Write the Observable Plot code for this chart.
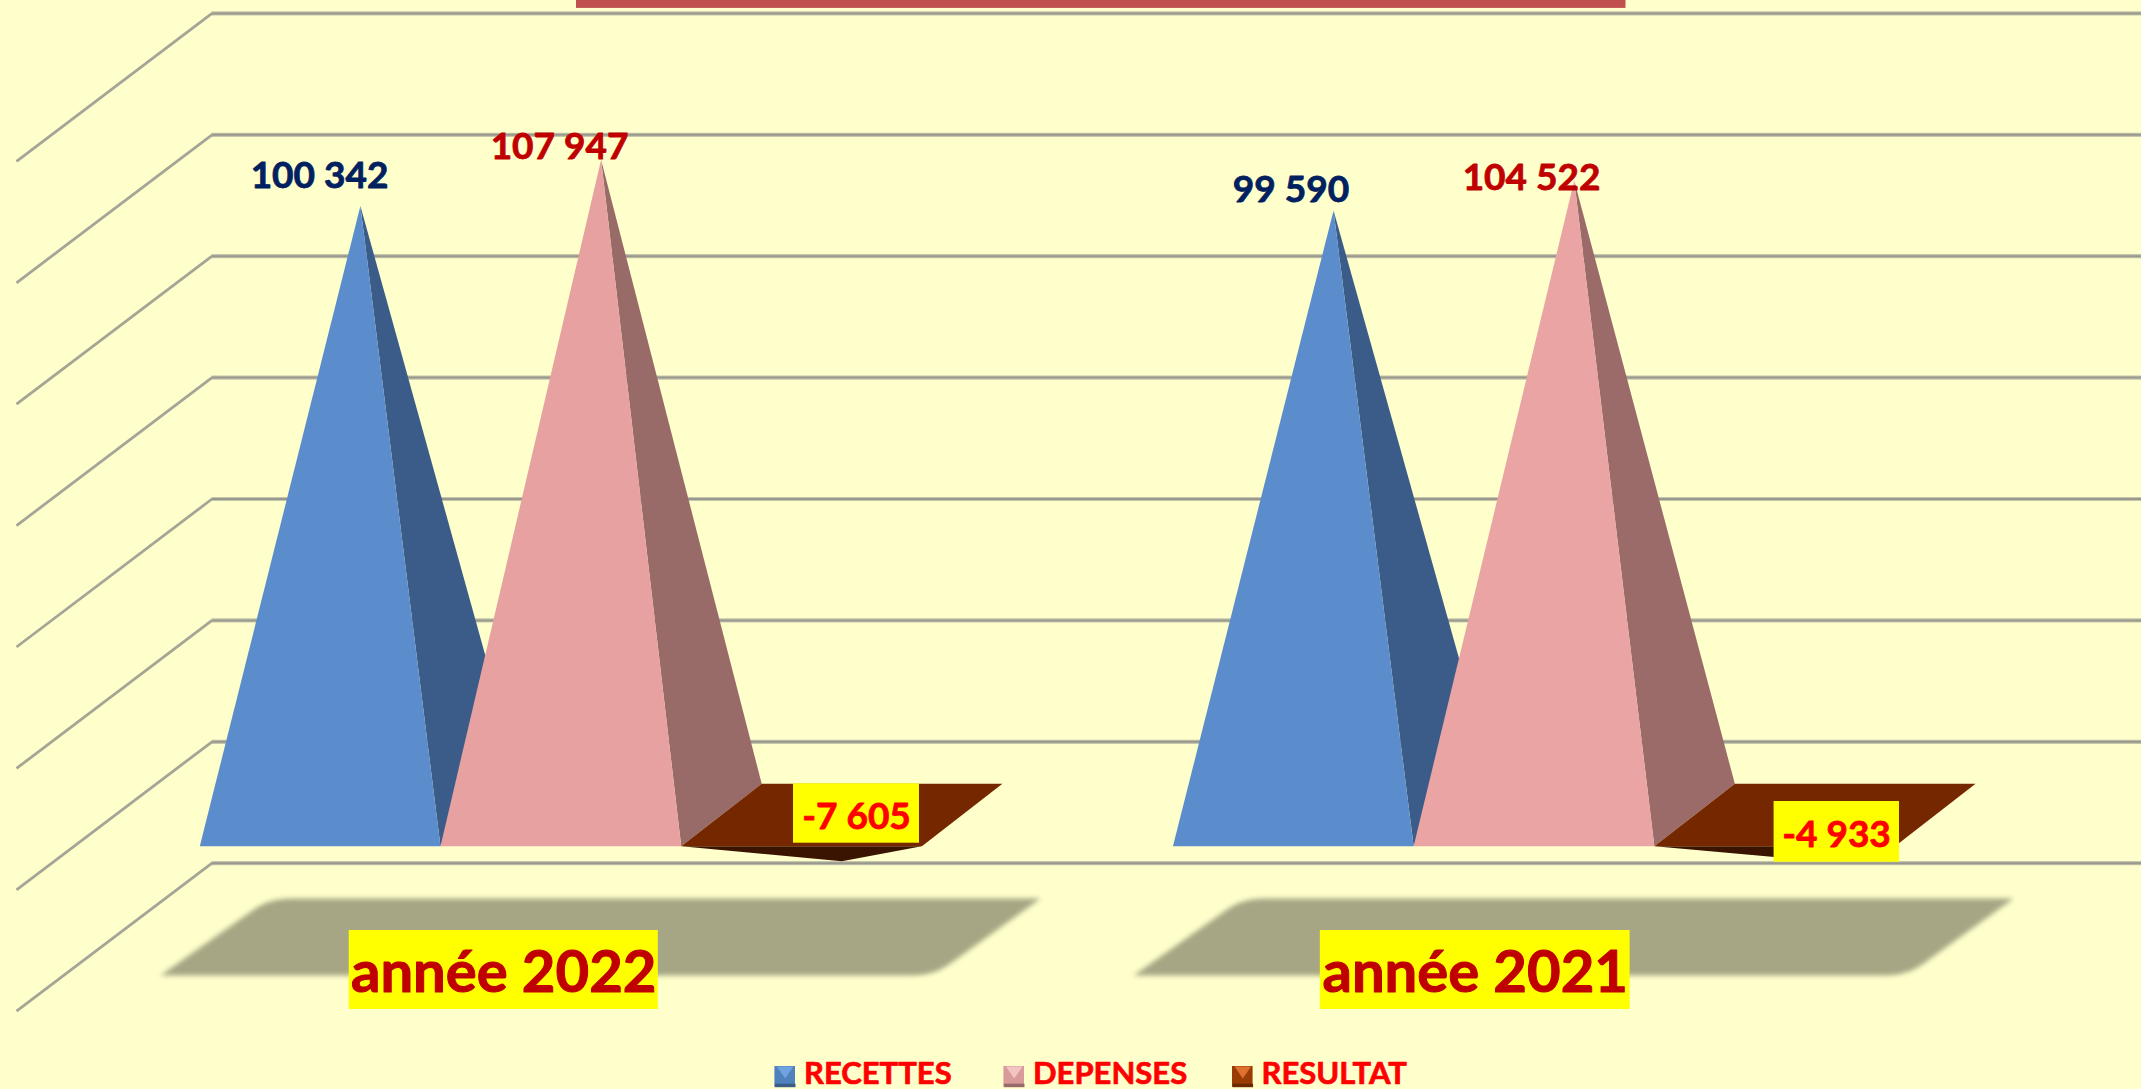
<!DOCTYPE html>
<html><head><meta charset="utf-8">
<script src="https://cdn.jsdelivr.net/npm/d3@7"></script>
<script src="https://cdn.jsdelivr.net/npm/@observablehq/plot@0.6"></script>
<style>html,body{margin:0;padding:0;background:#ffffcc;overflow:hidden}svg{display:block}</style>
</head><body><div id="chart"></div>
<script>
// ---- chart values ----
const categories = ["année 2022", "année 2021"];
const seriesNames = ["RECETTES", "DEPENSES", "RESULTAT"];
const recettes = [100342, 99590];
const depenses = [107947, 104522];
const resultat = [-7605, -4933];
// depth of the inverted pyramids as the picture draws them (the 2021 tip sits behind its label)
const resultatDrawn = [-7605, -7500];
const gridValues = [120000, 100000, 80000, 60000, 40000, 20000, 0, -20000];

// ---- scale set-up: x in bar-slots, y in euros ----
const W = 2141, H = 1089;
const slotPx = 240.7, originPx = 199.3, zeroPx = 814.5, pxPerValue = 0.00607;
const xDomain = [-originPx / slotPx, (W - originPx) / slotPx];
const yDomain = [(zeroPx - H) / pxPerValue, zeroPx / pxPerValue];
const X = (px) => (px - originPx) / slotPx;          // pixel → slot units (annotations only)
const Y = (py) => (zeroPx - py) / pxPerValue;        // pixel → value units (annotations only)
const catStep = 4.043;
const depthX = 80.5 / slotPx, depthY = 62.4 / pxPerValue;
const P = (slot, value, d) => ({x: slot + (d + 0.5) * depthX, y: value + d * depthY});

const bg = "#ffffcc";
const colors = {
  blue: "#5b8dcd", blueDark: "#3b5c88",
  pink: ["#e8a1a1", "#eba4a4"], pinkDark: ["#986a68", "#9b6b69"],
  brown: "#752700", brownDark: "#3a1400"
};
const face = (pts, fill) => Plot.line(pts, {x: "x", y: "y", fill, stroke: "none", curve: "linear-closed"});

function pyramidUp(slot, value, front, side) {
  const a = P(slot, 0, -0.5), b = P(slot + 1, 0, -0.5), c = P(slot + 1, 0, 0.5);
  const t = P(slot + 0.5, value, 0);
  return [face([b, c, t], side), face([a, b, t], front)];
}
function pyramidDown(slot, value) {
  const a = P(slot, 0, -0.5), b = P(slot + 1, 0, -0.5), c = P(slot + 1, 0, 0.5), d = P(slot, 0, 0.5);
  const t = P(slot + 0.5, value, 0);
  return [face([a, b, t], colors.brownDark), face([a, b, c, d], colors.brown)];
}

// grid: back wall + receding lines
const wallLift = (zeroPx - 741.3) / pxPerValue;
const depthSpan = 148 / pxPerValue;
const gridColor = "#a5a596";
const wallValues = gridValues.map(v => v + wallLift);
const wallMarks = [
  Plot.ruleY(wallValues, {x1: X(211.5), x2: xDomain[1], stroke: "#c6c6ac", strokeWidth: 4.2}),
  Plot.ruleY(wallValues, {x1: X(211.5), x2: xDomain[1], stroke: "#98988c", strokeWidth: 2}),
  Plot.link(gridValues, {
    x1: () => X(211.5), y1: v => v + wallLift,
    x2: () => X(16), y2: v => v + wallLift - depthSpan,
    stroke: gridColor, strokeWidth: 2.8
  })
];

// category shadow plates: sharp bottom-left/top-right, rounded top-left/bottom-right
function corner(a, c, b) {
  return d3.range(0, 1.001, 0.2).map(t => [
    (1 - t) ** 2 * a[0] + 2 * t * (1 - t) * c[0] + t ** 2 * b[0],
    (1 - t) ** 2 * a[1] + 2 * t * (1 - t) * c[1] + t ** 2 * b[1]
  ]);
}
const shadowOutline = [
  [160, 975],
  ...corner([252, 910], [268, 898], [290, 898]),
  [1040, 898],
  ...corner([950, 963], [934, 975], [912, 975])
];
const shadowMarks = categories.map((c, i) => Plot.line(
  shadowOutline.map(([px, py]) => ({x: i * catStep + X(px), y: Y(py)})),
  {x: "x", y: "y", fill: "#a6a684", stroke: "none", curve: "linear-closed", imageFilter: "blur(2.5px)"}
));

const pyramids = categories.flatMap((c, i) => {
  const o = i * catStep;
  return [
    ...pyramidUp(o, recettes[i], colors.blue, colors.blueDark),
    ...pyramidUp(o + 1, depenses[i], colors.pink[i], colors.pinkDark[i]),
    ...pyramidDown(o + 2, resultatDrawn[i])
  ];
});

// label boxes and texts
const font = "Lato, Carlito, Calibri, sans-serif";
const fr = d3.formatLocale({decimal: ",", thousands: " ", grouping: [3], currency: ["", ""], minus: "-"}).format(",d");

const topLabels = [
  {x: X(319),  y: Y(187.5), t: fr(recettes[0]), c: "#002060"},
  {x: X(559),  y: Y(158),   t: fr(depenses[0]), c: "#c00000"},
  {x: X(1290.5), y: Y(201.8), t: fr(recettes[1]), c: "#002060"},
  {x: X(1531), y: Y(189.3), t: fr(depenses[1]), c: "#c00000"}
];
const resBoxes = [
  {x1: X(793), x2: X(919), y1: Y(783.3), y2: Y(842.7), x: X(856), y: Y(828), t: fr(resultat[0])},
  {x1: X(1773.6), x2: X(1899), y1: Y(801), y2: Y(861.7), x: X(1836), y: Y(846), t: fr(resultat[1])}
];
const yearBoxes = [
  {x1: X(348.7), x2: X(657.8), y1: Y(930), y2: Y(1009), x: X(503.2), y: Y(991.7), t: categories[0]},
  {x1: X(1319.8), x2: X(1629.6), y1: Y(930), y2: Y(1009), x: X(1474.7), y: Y(991.7), t: categories[1]}
];

// legend
const legendItems = [
  {name: seriesNames[0], sx: 774.4, tx: 803.5, base: "#4f81bd", hi: "#6fa3e0", lo: "#3b5c88"},
  {name: seriesNames[1], sx: 1003.4, tx: 1032.5, base: "#d99a9a", hi: "#f2c4c4", lo: "#986a68"},
  {name: seriesNames[2], sx: 1232, tx: 1261, base: "#9a3c06", hi: "#e0702e", lo: "#6a2a04"}
];
const legendMarks = legendItems.flatMap(l => {
  const x0 = l.sx, x1 = l.sx + 20.6, y0 = 1066, y1 = 1086.7, cx = l.sx + 10.3;
  return [
    Plot.rect([0], {x1: () => X(x0), x2: () => X(x1), y1: () => Y(y0), y2: () => Y(y1), fill: l.base}),
    face([{x: X(x0), y: Y(y1)}, {x: X(x1), y: Y(y1)}, {x: X(x1), y: Y(y1 - 3.5)}, {x: X(x0), y: Y(y1 - 3.5)}], l.lo),
    face([{x: X(x0 + 2), y: Y(y0)}, {x: X(x1 - 2), y: Y(y0)}, {x: X(cx), y: Y(y0 + 12)}], l.hi),
    Plot.text([l], {x: () => X(l.tx), y: () => Y(1083), text: "name", textAnchor: "start", lineAnchor: "bottom",
      fontFamily: font, fontWeight: 700, fontSize: 31, fill: "#ff0000", stroke: "#ff0000", strokeWidth: 0.7})
  ];
});

const chart = Plot.plot({
  width: W, height: H, margin: 0,
  style: {background: bg, overflow: "hidden"},
  x: {axis: null, domain: xDomain},
  y: {axis: null, domain: yDomain},
  marks: [
    ...wallMarks,
    Plot.rect([0], {x1: () => X(576), x2: () => X(1625.5), y1: () => Y(0), y2: () => Y(7.9), fill: "#c0504d"}),
    ...shadowMarks,
    ...pyramids,
    Plot.text(topLabels, {x: "x", y: "y", text: "t", fill: "c", stroke: "c", strokeWidth: 0.8, textAnchor: "middle", lineAnchor: "bottom",
      fontFamily: font, fontWeight: 700, fontSize: 37}),
    Plot.rect(resBoxes, {x1: "x1", x2: "x2", y1: "y1", y2: "y2", fill: "#ffff00"}),
    Plot.text(resBoxes, {x: "x", y: "y", text: "t", fill: "#ff0000", stroke: "#ff0000", strokeWidth: 0.8, textAnchor: "middle", lineAnchor: "bottom",
      fontFamily: font, fontWeight: 700, fontSize: 37}),
    Plot.rect(yearBoxes, {x1: "x1", x2: "x2", y1: "y1", y2: "y2", fill: "#ffff00"}),
    Plot.text(yearBoxes, {x: "x", y: "y", text: "t", fill: "#c00000", stroke: "#c00000", strokeWidth: 1, textAnchor: "middle", lineAnchor: "bottom",
      fontFamily: font, fontWeight: 700, fontSize: 58}),
    ...legendMarks
  ]
});
document.getElementById("chart").append(chart);
</script></body></html>
